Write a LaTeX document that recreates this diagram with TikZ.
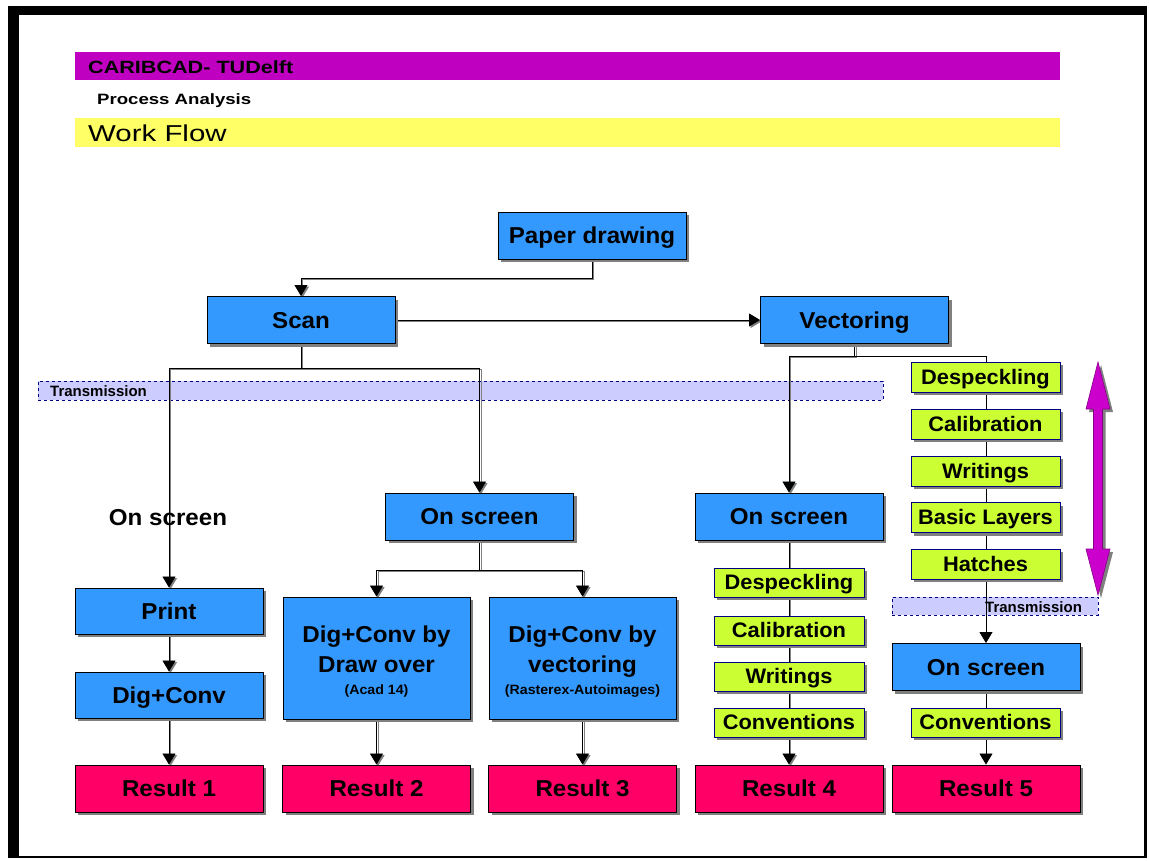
\documentclass[tikz,border=0pt]{standalone}
\usepackage{fontspec}
\setmainfont{Liberation Sans}
\usetikzlibrary{arrows.meta,shadows}
\pgfdeclarelayer{frame}
\pgfdeclarelayer{back}
\pgfdeclarelayer{wires}
\pgfsetlayers{frame,back,wires,main}
\definecolor{boxblue}{RGB}{51,153,255}
\definecolor{resultred}{RGB}{255,0,102}
\definecolor{stepgreen}{RGB}{204,255,51}
\definecolor{barmagenta}{RGB}{192,0,192}
\definecolor{baryellow}{RGB}{255,255,102}
\definecolor{lavender}{RGB}{204,204,255}
\definecolor{navyline}{RGB}{0,0,128}
\definecolor{shadowgray}{RGB}{128,128,128}
\definecolor{arrowmag}{RGB}{204,0,204}
\tikzset{
  shade3/.style={drop shadow={shadow xshift=3pt,shadow yshift=-3pt,fill=shadowgray,opacity=1}},
  box/.style={draw=black,line width=0.9pt,inner sep=0pt,shade3,align=center,
    font=\fontsize{23}{30}\selectfont\bfseries\addfontfeature{FakeStretch=1.05}},
  oneline/.style={text height=16.5pt,text depth=0pt},
  bluebox/.style={box,oneline,fill=boxblue,minimum width=188pt,minimum height=47pt},
  tallbox/.style={box,fill=boxblue,minimum width=187pt,minimum height=122pt},
  resultbox/.style={box,oneline,fill=resultred,minimum width=188pt,minimum height=47pt},
  stepbox/.style={box,draw=navyline,fill=stepgreen,minimum width=149pt,minimum height=29pt,
    font=\fontsize{21}{24}\selectfont\bfseries\addfontfeature{FakeStretch=1.04},
    text height=15pt,text depth=1pt},
  band/.style={draw=navyline,dashed,line width=0.8pt,fill=lavender,inner sep=0pt},
  bandtext/.style={font=\fontsize{15}{17}\selectfont\bfseries,inner sep=0pt,anchor=base west},
  link/.style={draw=black,line width=0.8pt,
    preaction={draw=shadowgray,line width=1pt,transform canvas={shift={(1.5pt,-1.5pt)}}}},
  tip/.style={-{Triangle[length=11pt,width=13pt]}},
}
\begin{document}
\begin{tikzpicture}[x=1pt,y=-1pt]
\useasboundingbox (0,0) rectangle (1149,860);
% page frame
\begin{pgfonlayer}{frame}
\fill[black] (8,6) rectangle (1147,858);
\fill[white] (19,15) rectangle (1144,856);
\end{pgfonlayer}

% header bars
\node[fill=barmagenta,minimum width=985pt,minimum height=28pt,inner sep=0pt] (hbar) at (567.5,66) {};
\node[anchor=base west,inner sep=0pt,font=\fontsize{17.7}{20}\selectfont\bfseries\addfontfeature{FakeStretch=1.22}] (htitle) at (88,73.3) {CARIBCAD- TUDelft};
\node[anchor=base west,inner sep=0pt,font=\fontsize{15}{17}\selectfont\bfseries\addfontfeature{FakeStretch=1.24}] (hsub) at (97,104) {Process Analysis};
\node[fill=baryellow,minimum width=985pt,minimum height=29pt,inner sep=0pt] (ybar) at (567.5,132.5) {};
\node[anchor=base west,inner sep=0pt,font=\fontsize{23}{26}\selectfont\addfontfeature{FakeStretch=1.28}] (ytitle) at (88,141.7) {Work Flow};

% transmission bands
\begin{pgfonlayer}{back}
\node[band,minimum width=845pt,minimum height=19pt] (tband1) at (460.5,390.5) {};
\node[band,minimum width=206pt,minimum height=18pt] (tband2) at (995,606) {};
\end{pgfonlayer}
\node[bandtext] (tlab1) at (50,396.5) {Transmission};
\node[bandtext] (tlab2) at (985,612) {Transmission};

% process boxes
\node[bluebox] (paper) at (592,235.5) {Paper drawing};
\node[bluebox] (scan) at (301,320) {Scan};
\node[bluebox] (vect) at (854.5,320) {Vectoring};
\node[bluebox] (os2) at (479.5,516.5) {On screen};
\node[bluebox] (os4) at (789,516.5) {On screen};
\node[bluebox] (os5) at (986,667) {On screen};
\node[font=\fontsize{23}{28}\selectfont\bfseries\addfontfeature{FakeStretch=1.05},inner sep=0pt,text height=16.5pt,text depth=0pt] (os1) at (168,517) {On screen};
\node[bluebox,minimum height=46pt] (print) at (169,611) {Print};
\node[bluebox,minimum height=46pt] (dig1) at (169,695) {Dig+Conv};
\node[tallbox] (dover) at (376.5,658) {\rule{0pt}{23pt}Dig+Conv by\\Draw over\\[-8pt]{\fontsize{13.5}{15}\selectfont (Acad 14)}};
\node[tallbox] (dvec) at (582.5,658) {\rule{0pt}{23pt}Dig+Conv by\\vectoring\\[-8pt]{\fontsize{13.5}{15}\selectfont (Rasterex-Autoimages)}};

% result boxes
\node[resultbox] (res1) at (169,788.5) {Result 1};
\node[resultbox] (res2) at (376.5,788.5) {Result 2};
\node[resultbox] (res3) at (582.5,788.5) {Result 3};
\node[resultbox] (res4) at (789,788.5) {Result 4};
\node[resultbox] (res5) at (986,788.5) {Result 5};

% vectoring steps
\node[stepbox,minimum height=30pt] (va) at (985.5,377) {Despeckling};
\node[stepbox,minimum height=30pt] (vb) at (985.5,424) {Calibration};
\node[stepbox,minimum height=30pt] (vc) at (985.5,471) {Writings};
\node[stepbox,minimum height=30pt] (vd) at (985.5,517.5) {Basic Layers};
\node[stepbox,minimum height=30pt] (ve) at (985.5,564) {Hatches};
\node[stepbox,minimum width=150pt] (sa) at (789,582.5) {Despeckling};
\node[stepbox,minimum width=150pt] (sb) at (789,630.5) {Calibration};
\node[stepbox,minimum width=150pt] (sc) at (789,676.5) {Writings};
\node[stepbox,minimum width=150pt] (sd) at (789,722.5) {Conventions};
\node[stepbox] (ta) at (985.5,722.5) {Conventions};

% connectors
\begin{pgfonlayer}{wires}
\draw[link,tip] (paper.south) -- ++(0,19) -| (scan.north);
\draw[link,tip] (scan.east) -- (vect.west);
\draw[link,tip] (scan.south) -- ++(0,24) -| (print.north);
\draw[link,tip] (scan.south) -- ++(0,24) -| (os2.north);
\draw[link,tip] (os2.south) -- ++(0,30) -| (dover.north);
\draw[link,tip] (os2.south) -- ++(0,30) -| (dvec.north);
\draw[link,tip] (print.south) -- (dig1.north);
\draw[link,tip] (dig1.south) -- (res1.north);
\draw[link,tip] (dover.south) -- (res2.north);
\draw[link,tip] (dvec.south) -- (res3.north);
\draw[link,tip] (vect.south) -- ++(0,12) -| (os4.north);
\draw[draw=black,line width=0.8pt,tip] (vect.south) -- ++(0,12) -| (os5.north);
\draw[link,tip] (os4.south) -- (res4.north);
\draw[draw=black,line width=0.8pt,tip] (os5.south) -- (res5.north);
\end{pgfonlayer}

% iteration arrow beside the vectoring steps
\fill[shadowgray,shift={(3,3)}] (1098,362) -- (1110,409) -- (1102.5,409) -- (1102.5,549) -- (1110,549)
  -- (1098,595) -- (1086,549) -- (1093.5,549) -- (1093.5,409) -- (1086,409) -- cycle;
\filldraw[fill=arrowmag,draw=barmagenta!70!black,line width=0.6pt] (1098,362) -- (1110,409) -- (1102.5,409) -- (1102.5,549) -- (1110,549)
  -- (1098,595) -- (1086,549) -- (1093.5,549) -- (1093.5,409) -- (1086,409) -- cycle;
\end{tikzpicture}
\end{document}
